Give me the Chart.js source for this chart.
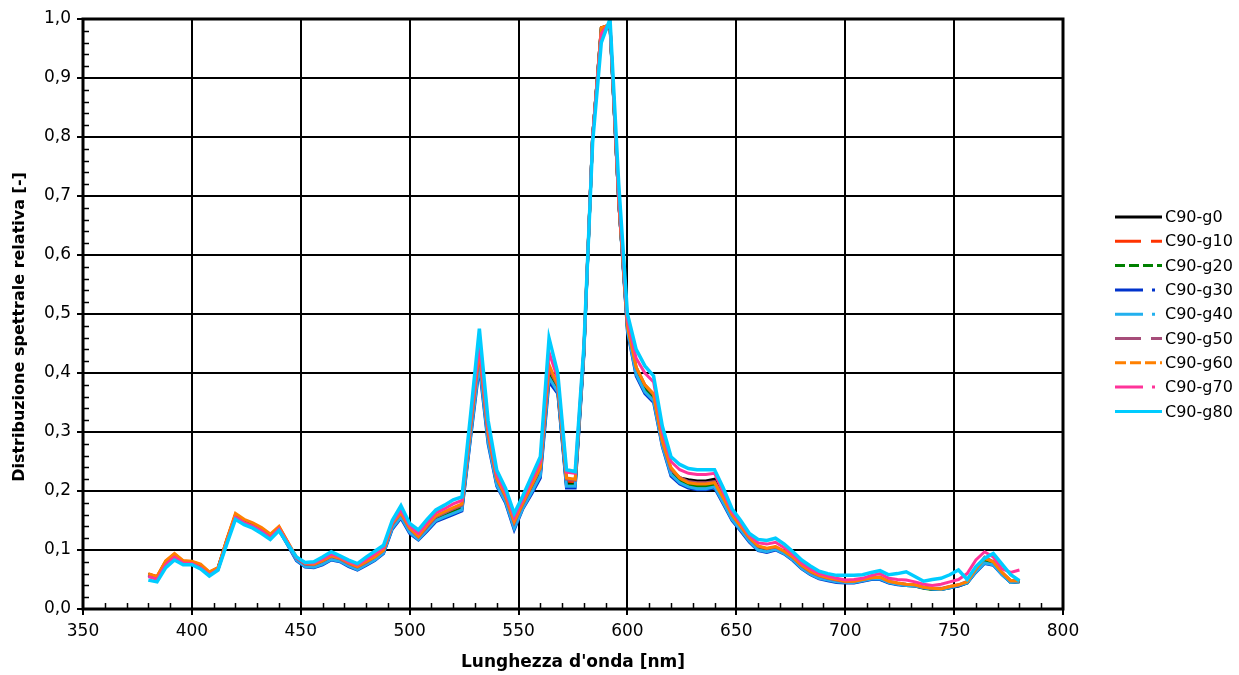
<!DOCTYPE html>
<html>
<head>
<meta charset="utf-8">
<script src="https://cdn.jsdelivr.net/npm/chart.js@4.4.1/dist/chart.umd.min.js"></script>
<style>
  html, body { margin: 0; padding: 0; background: #fff; }
  #wrap { width: 1239px; height: 675px; }
</style>
</head>
<body>
<div id="wrap"><canvas id="c" width="1239" height="675"></canvas></div>
<script>
// ---------------- DATA ----------------
const WAVELENGTHS = [
  380,384,388,392,396,400,404,408,412,416,
  420,424,428,432,436,440,444,448,452,456,
  460,464,468,472,476,480,484,488,492,496,
  500,504,508,512,516,520,524,528,532,536,
  540,544,548,552,556,560,564,568,572,576,
  580,584,588,592,596,600,604,608,612,616,
  620,624,628,632,636,640,644,648,652,656,
  660,664,668,672,676,680,684,688,692,696,
  700,704,708,712,716,720,724,728,732,736,
  740,744,748,752,756,760,764,768,772,776,
  780
];

const SERIES_NAMES = ['C90-g0','C90-g10','C90-g20','C90-g30','C90-g40','C90-g50','C90-g60','C90-g70','C90-g80'];

const G0 = [
  0.059,0.054,0.080,0.092,0.080,0.079,0.074,0.061,0.069,0.116,
  0.159,0.149,0.143,0.135,0.124,0.138,0.112,0.085,0.074,0.073,
  0.079,0.087,0.083,0.075,0.069,0.077,0.085,0.097,0.140,0.159,
  0.133,0.120,0.136,0.153,0.160,0.166,0.172,0.300,0.425,0.290,
  0.215,0.186,0.141,0.175,0.203,0.232,0.400,0.372,0.213,0.213,
  0.436,0.800,0.985,0.990,0.690,0.478,0.405,0.375,0.360,0.282,
  0.235,0.222,0.219,0.217,0.217,0.220,0.190,0.158,0.138,0.118,
  0.104,0.100,0.104,0.097,0.086,0.072,0.062,0.055,0.051,0.048,
  0.046,0.046,0.049,0.052,0.052,0.046,0.043,0.041,0.040,0.036,
  0.034,0.034,0.037,0.040,0.045,0.065,0.082,0.078,0.060,0.046,
  0.047
];
const G10 = [
  0.059,0.055,0.081,0.093,0.081,0.080,0.075,0.062,0.070,0.117,
  0.160,0.150,0.144,0.136,0.125,0.139,0.113,0.086,0.075,0.074,
  0.080,0.088,0.084,0.076,0.070,0.078,0.086,0.098,0.142,0.161,
  0.135,0.121,0.138,0.155,0.162,0.169,0.175,0.305,0.432,0.295,
  0.218,0.189,0.144,0.177,0.206,0.236,0.407,0.376,0.217,0.216,
  0.438,0.800,0.985,0.990,0.690,0.479,0.408,0.378,0.362,0.284,
  0.237,0.220,0.215,0.213,0.213,0.215,0.189,0.159,0.139,0.119,
  0.105,0.101,0.105,0.098,0.087,0.073,0.063,0.056,0.052,0.049,
  0.046,0.046,0.049,0.052,0.053,0.046,0.043,0.041,0.040,0.036,
  0.034,0.034,0.037,0.040,0.045,0.066,0.084,0.079,0.061,0.047,
  0.047
];
const G20 = [
  0.058,0.053,0.079,0.091,0.080,0.078,0.073,0.061,0.068,0.115,
  0.158,0.148,0.142,0.134,0.123,0.137,0.111,0.084,0.073,0.072,
  0.078,0.086,0.082,0.074,0.068,0.076,0.084,0.096,0.138,0.157,
  0.131,0.119,0.135,0.151,0.158,0.164,0.170,0.297,0.420,0.288,
  0.212,0.184,0.139,0.173,0.200,0.229,0.395,0.370,0.210,0.210,
  0.434,0.800,0.984,0.988,0.690,0.475,0.402,0.372,0.357,0.280,
  0.231,0.216,0.210,0.208,0.208,0.210,0.184,0.155,0.135,0.116,
  0.101,0.098,0.102,0.095,0.084,0.070,0.060,0.053,0.050,0.047,
  0.045,0.045,0.048,0.051,0.051,0.045,0.042,0.040,0.039,0.035,
  0.033,0.033,0.036,0.039,0.044,0.064,0.080,0.076,0.059,0.045,
  0.046
];
const G30 = [
  0.058,0.052,0.076,0.088,0.078,0.077,0.072,0.060,0.068,0.114,
  0.156,0.146,0.139,0.131,0.120,0.134,0.108,0.082,0.071,0.070,
  0.075,0.083,0.080,0.072,0.066,0.074,0.082,0.094,0.135,0.154,
  0.128,0.117,0.132,0.148,0.154,0.160,0.166,0.290,0.410,0.280,
  0.208,0.180,0.134,0.170,0.195,0.222,0.385,0.365,0.205,0.205,
  0.430,0.800,0.980,0.985,0.690,0.470,0.395,0.365,0.350,0.275,
  0.225,0.212,0.205,0.202,0.202,0.205,0.178,0.150,0.132,0.113,
  0.099,0.096,0.100,0.093,0.082,0.068,0.058,0.051,0.048,0.045,
  0.044,0.044,0.047,0.050,0.050,0.044,0.041,0.040,0.039,0.036,
  0.034,0.033,0.036,0.039,0.044,0.062,0.077,0.074,0.058,0.045,
  0.046
];
const G40 = [
  0.057,0.051,0.075,0.087,0.077,0.076,0.071,0.059,0.067,0.113,
  0.155,0.145,0.138,0.130,0.119,0.133,0.109,0.083,0.072,0.071,
  0.076,0.084,0.081,0.073,0.067,0.075,0.083,0.095,0.137,0.156,
  0.130,0.118,0.134,0.150,0.156,0.162,0.168,0.293,0.415,0.284,
  0.210,0.182,0.137,0.171,0.198,0.226,0.392,0.368,0.208,0.208,
  0.432,0.800,0.982,0.988,0.690,0.472,0.398,0.368,0.353,0.277,
  0.228,0.214,0.207,0.204,0.204,0.207,0.180,0.152,0.134,0.115,
  0.100,0.097,0.101,0.094,0.083,0.069,0.059,0.052,0.049,0.046,
  0.045,0.045,0.048,0.051,0.051,0.045,0.042,0.040,0.039,0.036,
  0.034,0.033,0.036,0.040,0.044,0.063,0.078,0.075,0.058,0.045,
  0.046
];
const G50 = [
  0.057,0.052,0.077,0.090,0.079,0.078,0.072,0.060,0.068,0.114,
  0.157,0.147,0.141,0.133,0.122,0.137,0.111,0.086,0.076,0.075,
  0.081,0.089,0.085,0.077,0.071,0.079,0.088,0.099,0.143,0.162,
  0.136,0.122,0.139,0.156,0.163,0.170,0.176,0.308,0.435,0.297,
  0.220,0.190,0.146,0.178,0.208,0.238,0.410,0.378,0.220,0.218,
  0.438,0.800,0.982,0.990,0.690,0.480,0.410,0.380,0.363,0.284,
  0.236,0.223,0.216,0.214,0.214,0.216,0.190,0.160,0.140,0.120,
  0.106,0.102,0.105,0.098,0.087,0.073,0.063,0.056,0.052,0.049,
  0.046,0.047,0.050,0.053,0.054,0.047,0.044,0.042,0.041,0.037,
  0.035,0.035,0.038,0.041,0.047,0.068,0.088,0.080,0.062,0.048,
  0.048
];
const G60 = [
  0.060,0.055,0.082,0.094,0.082,0.081,0.076,0.063,0.070,0.118,
  0.162,0.152,0.146,0.138,0.127,0.140,0.114,0.088,0.077,0.076,
  0.082,0.090,0.086,0.078,0.072,0.080,0.088,0.100,0.145,0.163,
  0.137,0.123,0.142,0.158,0.165,0.172,0.178,0.310,0.440,0.300,
  0.222,0.192,0.148,0.180,0.210,0.240,0.414,0.380,0.222,0.220,
  0.440,0.800,0.985,0.990,0.690,0.480,0.410,0.380,0.365,0.285,
  0.240,0.222,0.214,0.212,0.212,0.214,0.188,0.160,0.140,0.121,
  0.107,0.103,0.106,0.098,0.088,0.074,0.064,0.057,0.053,0.050,
  0.047,0.047,0.050,0.053,0.054,0.047,0.044,0.042,0.041,0.037,
  0.035,0.034,0.038,0.041,0.046,0.068,0.086,0.080,0.062,0.048,
  0.048
];
const G70 = [
  0.055,0.050,0.075,0.088,0.078,0.077,0.070,0.058,0.067,0.112,
  0.155,0.146,0.140,0.132,0.121,0.136,0.112,0.087,0.078,0.078,
  0.085,0.093,0.088,0.080,0.075,0.084,0.093,0.104,0.147,0.168,
  0.141,0.128,0.146,0.163,0.170,0.178,0.184,0.320,0.450,0.310,
  0.228,0.198,0.155,0.186,0.218,0.250,0.435,0.390,0.232,0.230,
  0.442,0.800,0.975,0.995,0.700,0.490,0.425,0.400,0.385,0.300,
  0.250,0.236,0.230,0.228,0.228,0.230,0.198,0.165,0.146,0.125,
  0.112,0.110,0.113,0.104,0.092,0.078,0.068,0.060,0.056,0.052,
  0.049,0.050,0.052,0.057,0.060,0.052,0.050,0.049,0.046,0.042,
  0.040,0.042,0.046,0.050,0.060,0.083,0.097,0.088,0.068,0.062,
  0.066
];
const G80 = [
  0.049,0.046,0.070,0.083,0.075,0.075,0.068,0.056,0.066,0.110,
  0.152,0.143,0.137,0.128,0.118,0.133,0.110,0.088,0.079,0.080,
  0.088,0.097,0.090,0.083,0.077,0.088,0.098,0.108,0.150,0.175,
  0.145,0.134,0.152,0.168,0.176,0.185,0.190,0.330,0.475,0.320,
  0.235,0.205,0.162,0.192,0.225,0.258,0.459,0.400,0.236,0.233,
  0.445,0.790,0.960,1.000,0.720,0.500,0.440,0.412,0.395,0.310,
  0.258,0.245,0.238,0.236,0.236,0.236,0.205,0.170,0.150,0.128,
  0.118,0.116,0.120,0.110,0.097,0.083,0.073,0.064,0.060,0.057,
  0.057,0.057,0.058,0.062,0.065,0.058,0.060,0.063,0.055,0.047,
  0.050,0.052,0.058,0.066,0.050,0.072,0.086,0.094,0.076,0.058,
  0.048
];

const X_TICKS = [350,400,450,500,550,600,650,700,750,800];
const Y_TICKS = [0,0.1,0.2,0.3,0.4,0.5,0.6,0.7,0.8,0.9,1.0];
const Y_TICK_LABELS = ['0,0','0,1','0,2','0,3','0,4','0,5','0,6','0,7','0,8','0,9','1,0'];

const X_TITLE = "Lunghezza d'onda [nm]";
const Y_TITLE = 'Distribuzione spettrale relativa [-]';

// ---------------- STYLE ----------------
const FONT = "'DejaVu Sans', Verdana, sans-serif";
const SERIES_VALUES = [G0, G10, G20, G30, G40, G50, G60, G70, G80];
const COLORS = ['#000000','#ff3300','#008000','#0033cc','#22b0ee','#a64d79','#ff8000','#ff3399','#00ccff'];
const LEGEND_DASH = [[], [26,10], [10,4], [28,9,3,9], [28,9,3,9], [26,10], [11,4], [28,9,3,9], []];

const datasets = SERIES_NAMES.map((name, i) => ({
  label: name,
  data: WAVELENGTHS.map((w, k) => ({ x: w, y: SERIES_VALUES[i][k] })),
  borderColor: COLORS[i],
  backgroundColor: COLORS[i],
  borderWidth: i === 8 ? 3.5 : 3,
  pointRadius: 0,
  tension: 0,
  fill: false,
  order: SERIES_NAMES.length - 1 - i
}));

const decorPlugin = {
  id: 'decor',
  afterDraw(chart) {
    const { ctx, chartArea: a, scales } = chart;
    const xs = scales.x, ys = scales.y;
    ctx.save();
    // frame
    ctx.strokeStyle = '#000';
    ctx.lineWidth = 3;
    ctx.strokeRect(a.left, a.top, a.right - a.left, a.bottom - a.top);
    // minor ticks (inside)
    ctx.lineWidth = 1.5;
    ctx.beginPath();
    for (let k = 1; k < 50; k++) {
      if (k % 5 === 0) continue;
      const y = Math.round(ys.getPixelForValue(k / 50)) + 0.5;
      ctx.moveTo(a.left, y); ctx.lineTo(a.left + 6, y);
    }
    for (let nm = 360; nm < 800; nm += 10) {
      if (nm % 50 === 0) continue;
      const x = Math.round(xs.getPixelForValue(nm)) + 0.5;
      ctx.moveTo(x, a.bottom); ctx.lineTo(x, a.bottom - 6);
    }
    ctx.stroke();
    // axis titles
    ctx.fillStyle = '#000';
    ctx.textAlign = 'center';
    ctx.textBaseline = 'middle';
    ctx.font = "bold 17px " + FONT;
    ctx.fillText(X_TITLE, (a.left + a.right) / 2, 663);
    ctx.font = "bold 16px " + FONT;
    ctx.save();
    ctx.translate(20, 327);
    ctx.rotate(-Math.PI / 2);
    ctx.fillText(Y_TITLE, 0, 0);
    ctx.restore();
    // legend
    ctx.font = "16px " + FONT;
    ctx.textAlign = 'left';
    ctx.textBaseline = 'middle';
    SERIES_NAMES.forEach((name, i) => {
      const y = 217 + i * 24.3;
      ctx.strokeStyle = COLORS[i];
      ctx.lineWidth = 3;
      ctx.setLineDash(LEGEND_DASH[i]);
      ctx.beginPath();
      ctx.moveTo(1115, y); ctx.lineTo(1162, y);
      ctx.stroke();
      ctx.setLineDash([]);
      ctx.fillStyle = '#000';
      ctx.fillText(name, 1165, y + 1);
    });
    ctx.restore();
  }
};

new Chart(document.getElementById('c'), {
  type: 'line',
  data: { datasets },
  options: {
    responsive: false,
    animation: false,
    events: [],
    layout: { padding: { top: 19, right: 176, left: 0, bottom: 0 } },
    plugins: { legend: { display: false }, tooltip: { enabled: false } },
    scales: {
      x: {
        type: 'linear', min: 350, max: 800,
        afterBuildTicks: s => { s.ticks = X_TICKS.map(v => ({ value: v })); },
        afterFit: s => { s.height = 66; },
        ticks: { font: { family: FONT, size: 17 }, color: '#000', padding: 6, maxRotation: 0, autoSkip: false },
        grid: { color: '#000', lineWidth: 2, tickLength: 6, tickWidth: 2, tickColor: '#000' },
        border: { display: false }
      },
      y: {
        type: 'linear', min: 0, max: 1,
        afterBuildTicks: s => { s.ticks = Y_TICKS.map(v => ({ value: v })); },
        afterFit: s => { s.width = 83; },
        ticks: { font: { family: FONT, size: 17 }, color: '#000', padding: 6, autoSkip: false,
                 callback: (v, i) => Y_TICK_LABELS[i] },
        grid: { color: '#000', lineWidth: 2, tickLength: 6, tickWidth: 2, tickColor: '#000' },
        border: { display: false }
      }
    }
  },
  plugins: [decorPlugin]
});
</script>
</body>
</html>
